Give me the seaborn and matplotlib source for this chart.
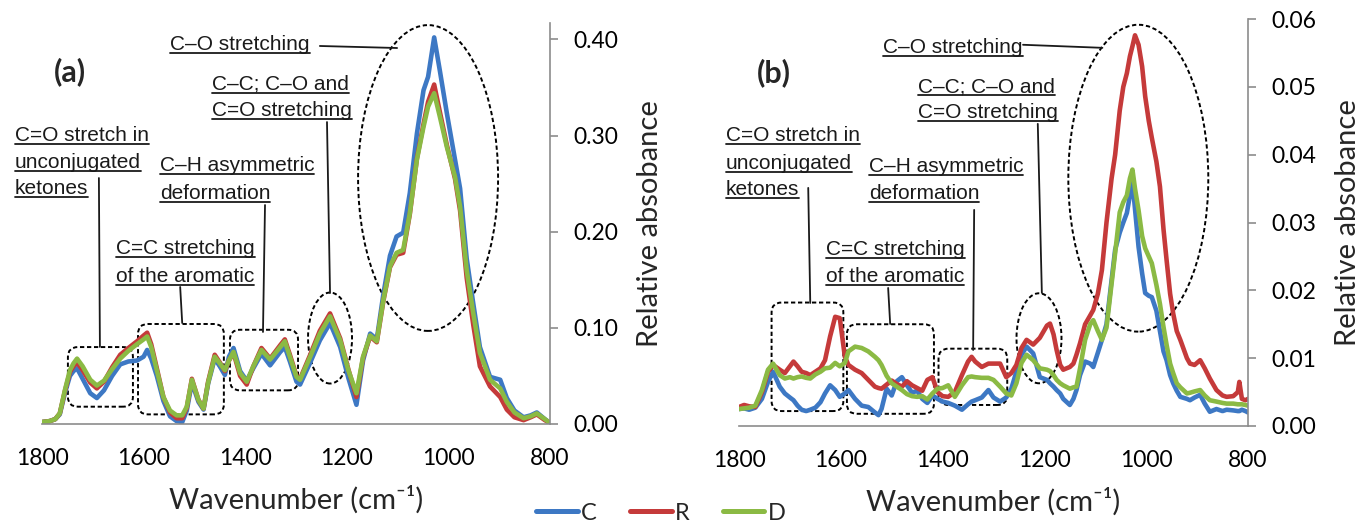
import matplotlib
matplotlib.use("Agg")
import matplotlib.pyplot as plt
import pandas as pd
import seaborn as sns
from matplotlib.lines import Line2D
from matplotlib.patches import Ellipse, FancyBboxPatch

# ---- data (wavenumber in cm-1, relative absorbance) ----
SAMPLES = ["C", "R", "D"]
COLORS = {"C": "#3D78C4", "R": "#C53A3A", "D": "#8BBA44"}

WN_A = [1800, 1785, 1774, 1765, 1755, 1745, 1738, 1731, 1720, 1705, 1692, 1678, 1662,
        1646, 1630, 1613, 1600, 1593, 1585, 1574, 1561, 1548, 1535, 1524, 1515, 1505,
        1492, 1482, 1473, 1460, 1450, 1440, 1432, 1423, 1410, 1397, 1384, 1368, 1351,
        1331, 1322, 1312, 1299, 1292, 1272, 1253, 1233, 1213, 1197, 1181, 1168, 1154,
        1141, 1128, 1115, 1102, 1089, 1076, 1062, 1049, 1040, 1028, 1017, 1003, 987,
        977, 964, 951, 938, 918, 898, 885, 870, 852, 838, 826, 810, 800]
C_A = [.002, .003, .005, .010, .032, .050, .055, .058, .047, .032, .027, .035, .050,
       .062, .065, .066, .070, .077, .068, .050, .024, .008, .003, .002, .014, .043,
       .023, .015, .042, .068, .060, .051, .070, .079, .055, .045, .058, .073, .061,
       .075, .080, .065, .044, .041, .064, .087, .105, .080, .048, .020, .066, .094,
       .088, .135, .175, .195, .199, .240, .302, .347, .361, .402, .368, .323, .275,
       .245, .172, .125, .080, .049, .046, .027, .014, .007, .009, .012, .005, .001]
R_A = [.002, .003, .005, .011, .034, .054, .060, .064, .056, .043, .037, .044, .059,
       .072, .079, .086, .092, .095, .083, .058, .028, .012, .006, .006, .017, .047,
       .025, .016, .044, .072, .064, .055, .066, .074, .050, .041, .060, .079, .068,
       .082, .088, .072, .050, .047, .072, .097, .115, .089, .057, .028, .069, .091,
       .085, .128, .163, .176, .178, .218, .276, .312, .335, .353, .325, .290, .255,
       .222, .152, .103, .060, .039, .028, .015, .007, .004, .007, .010, .004, .001]
D_A = [.002, .003, .005, .011, .035, .056, .063, .068, .060, .046, .040, .045, .057,
       .068, .076, .083, .088, .091, .080, .056, .028, .014, .009, .009, .018, .046,
       .025, .016, .043, .070, .063, .056, .066, .075, .053, .044, .060, .077, .067,
       .080, .086, .070, .049, .046, .070, .094, .112, .087, .056, .032, .070, .092,
       .086, .129, .164, .178, .181, .219, .275, .309, .330, .344, .320, .288, .257,
       .226, .160, .115, .074, .046, .037, .023, .012, .006, .008, .011, .005, .001]

WN_B = [1800, 1790, 1780, 1768, 1755, 1743, 1733, 1720, 1710, 1700,
        1693, 1685, 1677, 1668, 1660, 1650, 1640, 1631, 1621, 1611,
        1602, 1592, 1585, 1572, 1559, 1546, 1533, 1526, 1520, 1510,
        1500, 1490, 1480, 1470, 1460, 1450, 1440, 1430, 1420, 1410,
        1400, 1389, 1376, 1362, 1350, 1343, 1336, 1323, 1310, 1300,
        1287, 1275, 1265, 1255, 1245, 1235, 1222, 1209, 1195, 1189,
        1182, 1176, 1169, 1163, 1150, 1143, 1137, 1130, 1120, 1110,
        1104, 1095, 1087, 1078, 1068, 1061, 1052, 1045, 1038, 1032,
        1027, 1022, 1015, 1008, 1002, 995, 989, 980, 973, 966,
        960, 953, 947, 940, 933, 920, 914, 905, 894, 885,
        875, 862, 850, 842, 829, 820, 817, 812, 805, 800]
C_B = [.0025, .0026, .0024, .0027, .0040, .0065, .0080, .0058, .0048, .0042,
       .0038, .0030, .0024, .0022, .0024, .0027, .0035, .0048, .0060, .0053,
       .0043, .0048, .0053, .0040, .0030, .0028, .0020, .0016, .0025, .0055,
       .0045, .0066, .0072, .0060, .0049, .0052, .0040, .0034, .0045, .0040,
       .0036, .0034, .0030, .0024, .0032, .0036, .0038, .0042, .0053, .0042,
       .0036, .0042, .0055, .0080, .0105, .0117, .0107, .0072, .0068, .0063,
       .0058, .0053, .0048, .0040, .0031, .0040, .0053, .0075, .0095, .0092,
       .0087, .0108, .0127, .0150, .0215, .0260, .0285, .0300, .0314, .0340,
       .0360, .0320, .0264, .0225, .0196, .0192, .0190, .0170, .0140, .0110,
       .0097, .0075, .0063, .0052, .0043, .0040, .0038, .0042, .0046, .0033,
       .0021, .0025, .0022, .0024, .0023, .0022, .0022, .0024, .0022, .0020]
R_B = [.0028, .0031, .0029, .0028, .0050, .0080, .0090, .0083, .0078, .0088,
       .0095, .0088, .0080, .0078, .0075, .0080, .0085, .0097, .0132, .0161,
       .0159, .0102, .0090, .0083, .0078, .0068, .0058, .0056, .0055, .0061,
       .0067, .0062, .0058, .0066, .0060, .0056, .0052, .0068, .0072, .0050,
       .0044, .0043, .0050, .0075, .0095, .0102, .0095, .0087, .0092, .0092,
       .0092, .0072, .0078, .0090, .0115, .0127, .0120, .0130, .0148, .0151,
       .0135, .0112, .0090, .0083, .0087, .0092, .0105, .0122, .0150, .0163,
       .0171, .0195, .0230, .0300, .0365, .0400, .0465, .0500, .0520, .0545,
       .0560, .0576, .0562, .0530, .0486, .0450, .0425, .0390, .0353, .0290,
       .0245, .0195, .0166, .0140, .0127, .0100, .0092, .0090, .0097, .0085,
       .0070, .0053, .0045, .0043, .0044, .0050, .0065, .0040, .0038, .0040]
D_B = [.0025, .0026, .0027, .0030, .0053, .0083, .0092, .0075, .0070, .0072,
       .0070, .0072, .0073, .0071, .0070, .0076, .0080, .0085, .0086, .0093,
       .0088, .0093, .0110, .0117, .0115, .0110, .0102, .0097, .0090, .0074,
       .0063, .0058, .0053, .0047, .0044, .0043, .0044, .0039, .0048, .0055,
       .0056, .0060, .0043, .0060, .0072, .0073, .0072, .0071, .0071, .0068,
       .0058, .0048, .0045, .0063, .0093, .0105, .0097, .0085, .0083, .0081,
       .0075, .0068, .0063, .0060, .0055, .0057, .0058, .0085, .0127, .0150,
       .0156, .0140, .0127, .0145, .0210, .0255, .0315, .0330, .0340, .0365,
       .0378, .0350, .0318, .0280, .0262, .0250, .0240, .0208, .0180, .0146,
       .0120, .0092, .0078, .0063, .0057, .0048, .0049, .0051, .0053, .0045,
       .0038, .0036, .0034, .0033, .0033, .0032, .0032, .0032, .0031, .0030]

X_TICKS = [1800, 1600, 1400, 1200, 1000, 800]
Y_TICKS_A = [0.0, 0.1, 0.2, 0.3, 0.4]
Y_TICKS_B = [0.0, 0.01, 0.02, 0.03, 0.04, 0.05, 0.06]

ANNOT_FONT = ["Liberation Sans", "DejaVu Sans"]
AXIS_GREY = "#8C8C8C"
INK = "#1A1A1A"

sns.set_style("white")
plt.rcParams["font.family"] = ["Lato", "DejaVu Sans"]

W, H = 1371, 525
fig = plt.figure(figsize=(W / 100, H / 100), dpi=100)


def add_axes_px(left, top, right, bottom):
    return fig.add_axes([left / W, 1 - bottom / H, (right - left) / W, (bottom - top) / H])


def draw_spectra(ax, wn, c, r, d, ymax, yticks):
    df = pd.DataFrame({"wn": wn, "C": c, "R": r, "D": d})
    long = df.melt("wn", var_name="sample", value_name="absorbance")
    sns.lineplot(data=long, x="wn", y="absorbance", hue="sample", hue_order=SAMPLES,
                 palette=COLORS, sort=False, errorbar=None, lw=3.3, legend=False, ax=ax)
    ax.set_xlim(1800, 800)
    ax.set_ylim(0, ymax)
    ax.set_xticks(X_TICKS)
    ax.set_yticks(yticks)
    ax.set_yticklabels([f"{v:.2f}" for v in yticks])
    ax.yaxis.tick_right()
    ax.yaxis.set_label_position("right")
    for side in ("left", "top"):
        ax.spines[side].set_visible(False)
    for side in ("right", "bottom"):
        ax.spines[side].set_color(AXIS_GREY)
        ax.spines[side].set_linewidth(1.2)
    ax.tick_params(axis="both", colors=AXIS_GREY, labelcolor="black", labelsize=16.5,
                   length=6, width=1.2, direction="out")
    ax.tick_params(axis="x", pad=11)
    ax.tick_params(axis="y", pad=11)
    ax.set_xlabel("Wavenumber (cm\u207b\u00b9)", fontsize=21, labelpad=12)
    ax.set_ylabel("Relative absobance", fontsize=21, labelpad=13)
    ax.patch.set_alpha(0)


def rounded_box(ax, x0, x1, y0, y1, radius_px=10):
    # keep the corner radius circular in pixels although the axes scales differ
    px_x = ax.bbox.width / abs(ax.get_xlim()[1] - ax.get_xlim()[0])
    px_y = ax.bbox.height / (ax.get_ylim()[1] - ax.get_ylim()[0])
    r = radius_px / px_x
    box = FancyBboxPatch((min(x0, x1), y0), abs(x1 - x0), y1 - y0,
                         boxstyle=f"round,pad=0,rounding_size={r}",
                         mutation_aspect=px_x / px_y, fill=False, ec="black",
                         lw=1.4, ls=(0, (2.2, 1.4)), clip_on=False)
    ax.add_patch(box)


def dashed_ellipse(ax, xc, yc, w, h):
    ax.add_patch(Ellipse((xc, yc), w, h, fill=False, ec="black", lw=1.4,
                         ls=(0, (2.2, 1.4)), clip_on=False))


def leader(ax, xs, ys):
    ax.add_line(Line2D(xs, ys, color=INK, lw=1.3, clip_on=False))


underlined = []


def label(ax, x, y, txt):
    t = ax.text(x, y, txt, ha="left", va="center", fontsize=15, color=INK,
                family=ANNOT_FONT, clip_on=False)
    underlined.append(t)


ax_a = add_axes_px(42, 23, 550, 424)
ax_b = add_axes_px(739, 19, 1248, 426)

draw_spectra(ax_a, WN_A, C_A, R_A, D_A, 0.417, Y_TICKS_A)
draw_spectra(ax_b, WN_B, C_B, R_B, D_B, 0.060, Y_TICKS_B)

# ---- panel (a) annotations ----
ax_a.text(1745, 0.366, "(a)", ha="center", va="center", fontsize=22, fontweight="bold")
rounded_box(ax_a, 1749, 1621, 0.018, 0.080)
rounded_box(ax_a, 1611, 1442, 0.010, 0.104)
rounded_box(ax_a, 1430, 1296, 0.035, 0.098)
dashed_ellipse(ax_a, 1233, 0.0894, 86.6, 0.0946)
dashed_ellipse(ax_a, 1040, 0.2558, 275.6, 0.318)

label(ax_a, 1548, 0.395, "C\u2013O stretching")
label(ax_a, 1465, 0.3535, "C\u2013C; C\u2013O and")
label(ax_a, 1465, 0.3255, "C=O stretching")
label(ax_a, 1853, 0.2995, "C=O stretch in")
label(ax_a, 1853, 0.2724, "unconjugated")
label(ax_a, 1853, 0.2454, "ketones")
label(ax_a, 1568, 0.2683, "C\u2013H asymmetric")
label(ax_a, 1568, 0.2402, "deformation")
label(ax_a, 1654, 0.183, "C=C stretching")
label(ax_a, 1654, 0.1539, "of the aromatic")

leader(ax_a, [1253, 1101], [0.3931, 0.391])
leader(ax_a, [1239, 1233], [0.314, 0.1362])
leader(ax_a, [1688, 1686], [0.2558, 0.0801])
leader(ax_a, [1361, 1365], [0.2277, 0.0957])
leader(ax_a, [1528, 1524], [0.1425, 0.105])

# ---- panel (b) annotations ----
ax_b.text(1731, 0.0521, "(b)", ha="center", va="center", fontsize=22, fontweight="bold")
rounded_box(ax_b, 1736, 1595, 0.0022, 0.0182)
rounded_box(ax_b, 1588, 1417, 0.0018, 0.0150)
rounded_box(ax_b, 1408, 1273, 0.0031, 0.0114)
dashed_ellipse(ax_b, 1210.6, 0.01293, 88.4, 0.01327)
dashed_ellipse(ax_b, 1015.5, 0.03653, 275, 0.04524)

label(ax_b, 1516.5, 0.05575, "C\u2013O stretching")
label(ax_b, 1449, 0.0500, "C\u2013C; C\u2013O and")
label(ax_b, 1449, 0.0462, "C=O stretching")
label(ax_b, 1825.5, 0.04277, "C=O stretch in")
label(ax_b, 1825.5, 0.03875, "unconjugated")
label(ax_b, 1825.5, 0.0349, "ketones")
label(ax_b, 1544.6, 0.03824, "C\u2013H asymmetric")
label(ax_b, 1544.6, 0.03432, "deformation")
label(ax_b, 1629, 0.02596, "C=C stretching")
label(ax_b, 1629, 0.02202, "of the aromatic")

leader(ax_b, [1242, 1086], [0.0562, 0.05575])
leader(ax_b, [1213, 1205], [0.04454, 0.01962])
leader(ax_b, [1664, 1660], [0.0351, 0.01814])
leader(ax_b, [1338, 1340], [0.03186, 0.01121])
leader(ax_b, [1507, 1503], [0.02035, 0.01504])

# ---- legend ----
handles = [Line2D([], [], color=COLORS[s], lw=3.6) for s in SAMPLES]
fig.legend(handles, SAMPLES, loc="center", bbox_to_anchor=(661 / W, 12 / H), ncol=3,
           frameon=False, fontsize=17, handlelength=1.75, handletextpad=0.15,
           columnspacing=1.4, borderpad=0)

# ---- underline the annotation texts ----
fig.canvas.draw()
renderer = fig.canvas.get_renderer()
for t in underlined:
    bb = t.get_window_extent(renderer)
    y = (bb.y0 + 1) / fig.bbox.height
    fig.add_artist(Line2D([bb.x0 / fig.bbox.width, bb.x1 / fig.bbox.width], [y, y],
                          transform=fig.transFigure, color=INK, lw=1.3))

fig.savefig("out.png", dpi=100, facecolor="white")
